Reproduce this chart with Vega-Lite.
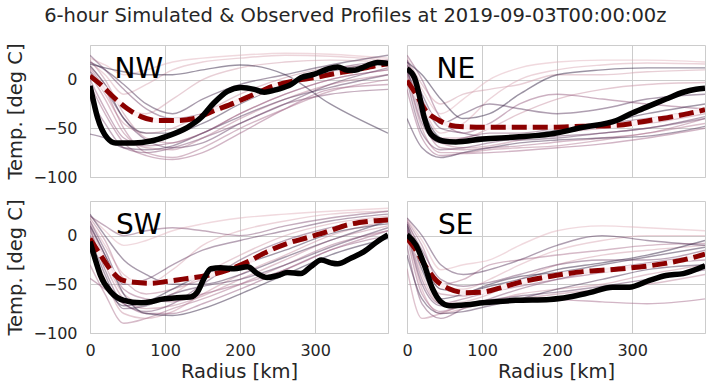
{
"$schema":"https://vega.github.io/schema/vega-lite/v6.json",
"padding":{"left":5,"top":6,"right":6,"bottom":5},
"title":{"text":"6-hour Simulated & Observed Profiles at 2019-09-03T00:00:00z","font":"DejaVu Sans","fontSize":19.5,"fontWeight":"normal","color":"#262626","anchor":"middle","frame":"bounds","offset":16},
"config":{"font":"DejaVu Sans","view":{"stroke":"#cccccc","strokeWidth":1},
"axis":{"domain":false,"ticks":false,"grid":true,"gridColor":"#cccccc","gridWidth":1,"labelFontSize":16,"labelColor":"#262626","titleFontSize":19.5,"titleFontWeight":"normal","titleColor":"#262626","labelFlush":false,"labelOverlap":false}},
"data":{"values":[
{"p":"NW","m":1,"r":0,"t":22},{"p":"NW","m":1,"r":20,"t":15},{"p":"NW","m":1,"r":45,"t":5},{"p":"NW","m":1,"r":75,"t":10},{"p":"NW","m":1,"r":110,"t":18},{"p":"NW","m":1,"r":150,"t":22},{"p":"NW","m":1,"r":200,"t":25},{"p":"NW","m":1,"r":260,"t":27},{"p":"NW","m":1,"r":320,"t":26},{"p":"NW","m":1,"r":397,"t":22},
{"p":"NW","m":2,"r":0,"t":18},{"p":"NW","m":2,"r":20,"t":5},{"p":"NW","m":2,"r":45,"t":-15},{"p":"NW","m":2,"r":75,"t":-5},{"p":"NW","m":2,"r":110,"t":10},{"p":"NW","m":2,"r":150,"t":18},{"p":"NW","m":2,"r":200,"t":22},{"p":"NW","m":2,"r":260,"t":25},{"p":"NW","m":2,"r":320,"t":24},{"p":"NW","m":2,"r":397,"t":20},
{"p":"NW","m":3,"r":0,"t":15},{"p":"NW","m":3,"r":20,"t":-5},{"p":"NW","m":3,"r":45,"t":-30},{"p":"NW","m":3,"r":75,"t":-35},{"p":"NW","m":3,"r":110,"t":-20},{"p":"NW","m":3,"r":150,"t":0},{"p":"NW","m":3,"r":200,"t":12},{"p":"NW","m":3,"r":260,"t":18},{"p":"NW","m":3,"r":320,"t":20},{"p":"NW","m":3,"r":397,"t":18},
{"p":"NW","m":4,"r":0,"t":10},{"p":"NW","m":4,"r":20,"t":-15},{"p":"NW","m":4,"r":45,"t":-45},{"p":"NW","m":4,"r":75,"t":-55},{"p":"NW","m":4,"r":110,"t":-50},{"p":"NW","m":4,"r":150,"t":-35},{"p":"NW","m":4,"r":200,"t":-15},{"p":"NW","m":4,"r":260,"t":2},{"p":"NW","m":4,"r":320,"t":12},{"p":"NW","m":4,"r":397,"t":15},
{"p":"NW","m":5,"r":0,"t":20},{"p":"NW","m":5,"r":20,"t":0},{"p":"NW","m":5,"r":45,"t":-35},{"p":"NW","m":5,"r":75,"t":-60},{"p":"NW","m":5,"r":110,"t":-65},{"p":"NW","m":5,"r":150,"t":-55},{"p":"NW","m":5,"r":200,"t":-35},{"p":"NW","m":5,"r":260,"t":-15},{"p":"NW","m":5,"r":320,"t":0},{"p":"NW","m":5,"r":397,"t":10},
{"p":"NW","m":6,"r":0,"t":5},{"p":"NW","m":6,"r":20,"t":-20},{"p":"NW","m":6,"r":45,"t":-55},{"p":"NW","m":6,"r":75,"t":-70},{"p":"NW","m":6,"r":110,"t":-72},{"p":"NW","m":6,"r":150,"t":-60},{"p":"NW","m":6,"r":200,"t":-40},{"p":"NW","m":6,"r":260,"t":-20},{"p":"NW","m":6,"r":320,"t":-5},{"p":"NW","m":6,"r":397,"t":5},
{"p":"NW","m":7,"r":0,"t":12},{"p":"NW","m":7,"r":20,"t":-10},{"p":"NW","m":7,"r":45,"t":-50},{"p":"NW","m":7,"r":75,"t":-75},{"p":"NW","m":7,"r":110,"t":-80},{"p":"NW","m":7,"r":150,"t":-70},{"p":"NW","m":7,"r":200,"t":-50},{"p":"NW","m":7,"r":260,"t":-30},{"p":"NW","m":7,"r":320,"t":-12},{"p":"NW","m":7,"r":397,"t":0},
{"p":"NW","m":8,"r":0,"t":-5},{"p":"NW","m":8,"r":20,"t":-35},{"p":"NW","m":8,"r":45,"t":-65},{"p":"NW","m":8,"r":75,"t":-78},{"p":"NW","m":8,"r":110,"t":-82},{"p":"NW","m":8,"r":150,"t":-75},{"p":"NW","m":8,"r":200,"t":-55},{"p":"NW","m":8,"r":260,"t":-30},{"p":"NW","m":8,"r":320,"t":-10},{"p":"NW","m":8,"r":397,"t":-5},
{"p":"NW","m":9,"r":0,"t":0},{"p":"NW","m":9,"r":20,"t":-30},{"p":"NW","m":9,"r":45,"t":-60},{"p":"NW","m":9,"r":75,"t":-68},{"p":"NW","m":9,"r":110,"t":-65},{"p":"NW","m":9,"r":150,"t":-55},{"p":"NW","m":9,"r":200,"t":-35},{"p":"NW","m":9,"r":260,"t":-15},{"p":"NW","m":9,"r":320,"t":0},{"p":"NW","m":9,"r":397,"t":10},
{"p":"NW","m":10,"r":0,"t":-20},{"p":"NW","m":10,"r":20,"t":-45},{"p":"NW","m":10,"r":45,"t":-70},{"p":"NW","m":10,"r":75,"t":-75},{"p":"NW","m":10,"r":110,"t":-70},{"p":"NW","m":10,"r":150,"t":-60},{"p":"NW","m":10,"r":200,"t":-45},{"p":"NW","m":10,"r":260,"t":-25},{"p":"NW","m":10,"r":320,"t":-15},{"p":"NW","m":10,"r":397,"t":-10},
{"p":"NW","m":11,"r":0,"t":25},{"p":"NW","m":11,"r":20,"t":10},{"p":"NW","m":11,"r":45,"t":-10},{"p":"NW","m":11,"r":75,"t":-30},{"p":"NW","m":11,"r":110,"t":-40},{"p":"NW","m":11,"r":150,"t":-35},{"p":"NW","m":11,"r":200,"t":-20},{"p":"NW","m":11,"r":260,"t":-5},{"p":"NW","m":11,"r":320,"t":10},{"p":"NW","m":11,"r":397,"t":20},
{"p":"NW","m":12,"r":0,"t":8},{"p":"NW","m":12,"r":20,"t":-10},{"p":"NW","m":12,"r":45,"t":-40},{"p":"NW","m":12,"r":75,"t":-62},{"p":"NW","m":12,"r":110,"t":-70},{"p":"NW","m":12,"r":150,"t":-65},{"p":"NW","m":12,"r":200,"t":-45},{"p":"NW","m":12,"r":260,"t":-25},{"p":"NW","m":12,"r":320,"t":-5},{"p":"NW","m":12,"r":397,"t":12},
{"p":"NW","m":13,"r":0,"t":-56},{"p":"NW","m":13,"r":20,"t":-60},{"p":"NW","m":13,"r":45,"t":-70},{"p":"NW","m":13,"r":75,"t":-72},{"p":"NW","m":13,"r":110,"t":-68},{"p":"NW","m":13,"r":150,"t":-55},{"p":"NW","m":13,"r":200,"t":-38},{"p":"NW","m":13,"r":260,"t":-20},{"p":"NW","m":13,"r":320,"t":-8},{"p":"NW","m":13,"r":397,"t":5},
{"p":"NW","m":14,"r":0,"t":18},{"p":"NW","m":14,"r":20,"t":10},{"p":"NW","m":14,"r":45,"t":-5},{"p":"NW","m":14,"r":75,"t":-25},{"p":"NW","m":14,"r":110,"t":-35},{"p":"NW","m":14,"r":150,"t":-20},{"p":"NW","m":14,"r":200,"t":-5},{"p":"NW","m":14,"r":260,"t":5},{"p":"NW","m":14,"r":320,"t":15},{"p":"NW","m":14,"r":397,"t":25},
{"p":"NW","m":15,"r":0,"t":14},{"p":"NW","m":15,"r":20,"t":-5},{"p":"NW","m":15,"r":45,"t":-40},{"p":"NW","m":15,"r":75,"t":-55},{"p":"NW","m":15,"r":110,"t":-55},{"p":"NW","m":15,"r":150,"t":-45},{"p":"NW","m":15,"r":200,"t":-25},{"p":"NW","m":15,"r":260,"t":-5},{"p":"NW","m":15,"r":320,"t":8},{"p":"NW","m":15,"r":397,"t":18},
{"p":"NW","m":16,"r":0,"t":16},{"p":"NW","m":16,"r":20,"t":12},{"p":"NW","m":16,"r":45,"t":8},{"p":"NW","m":16,"r":75,"t":5},{"p":"NW","m":16,"r":110,"t":5},{"p":"NW","m":16,"r":150,"t":10},{"p":"NW","m":16,"r":200,"t":15},{"p":"NW","m":16,"r":260,"t":5},{"p":"NW","m":16,"r":320,"t":-25},{"p":"NW","m":16,"r":397,"t":-55},
{"p":"NE","m":1,"r":0,"t":20},{"p":"NE","m":1,"r":20,"t":-10},{"p":"NE","m":1,"r":45,"t":-35},{"p":"NE","m":1,"r":75,"t":-20},{"p":"NE","m":1,"r":110,"t":0},{"p":"NE","m":1,"r":150,"t":12},{"p":"NE","m":1,"r":200,"t":18},{"p":"NE","m":1,"r":260,"t":20},{"p":"NE","m":1,"r":320,"t":20},{"p":"NE","m":1,"r":397,"t":18},
{"p":"NE","m":2,"r":0,"t":15},{"p":"NE","m":2,"r":20,"t":-25},{"p":"NE","m":2,"r":45,"t":-55},{"p":"NE","m":2,"r":75,"t":-45},{"p":"NE","m":2,"r":110,"t":-20},{"p":"NE","m":2,"r":150,"t":0},{"p":"NE","m":2,"r":200,"t":10},{"p":"NE","m":2,"r":260,"t":15},{"p":"NE","m":2,"r":320,"t":17},{"p":"NE","m":2,"r":397,"t":16},
{"p":"NE","m":3,"r":0,"t":22},{"p":"NE","m":3,"r":20,"t":-5},{"p":"NE","m":3,"r":45,"t":-25},{"p":"NE","m":3,"r":75,"t":-15},{"p":"NE","m":3,"r":110,"t":-10},{"p":"NE","m":3,"r":150,"t":-5},{"p":"NE","m":3,"r":200,"t":5},{"p":"NE","m":3,"r":260,"t":5},{"p":"NE","m":3,"r":320,"t":8},{"p":"NE","m":3,"r":397,"t":10},
{"p":"NE","m":4,"r":0,"t":10},{"p":"NE","m":4,"r":20,"t":-35},{"p":"NE","m":4,"r":45,"t":-60},{"p":"NE","m":4,"r":75,"t":-60},{"p":"NE","m":4,"r":110,"t":-50},{"p":"NE","m":4,"r":150,"t":-35},{"p":"NE","m":4,"r":200,"t":-20},{"p":"NE","m":4,"r":260,"t":-10},{"p":"NE","m":4,"r":320,"t":-5},{"p":"NE","m":4,"r":397,"t":-3},
{"p":"NE","m":5,"r":0,"t":18},{"p":"NE","m":5,"r":20,"t":-30},{"p":"NE","m":5,"r":45,"t":-65},{"p":"NE","m":5,"r":75,"t":-70},{"p":"NE","m":5,"r":110,"t":-68},{"p":"NE","m":5,"r":150,"t":-62},{"p":"NE","m":5,"r":200,"t":-55},{"p":"NE","m":5,"r":260,"t":-50},{"p":"NE","m":5,"r":320,"t":-45},{"p":"NE","m":5,"r":397,"t":-35},
{"p":"NE","m":6,"r":0,"t":5},{"p":"NE","m":6,"r":20,"t":-50},{"p":"NE","m":6,"r":45,"t":-75},{"p":"NE","m":6,"r":75,"t":-75},{"p":"NE","m":6,"r":110,"t":-72},{"p":"NE","m":6,"r":150,"t":-70},{"p":"NE","m":6,"r":200,"t":-68},{"p":"NE","m":6,"r":260,"t":-62},{"p":"NE","m":6,"r":320,"t":-55},{"p":"NE","m":6,"r":397,"t":-45},
{"p":"NE","m":7,"r":0,"t":12},{"p":"NE","m":7,"r":20,"t":-40},{"p":"NE","m":7,"r":45,"t":-70},{"p":"NE","m":7,"r":75,"t":-72},{"p":"NE","m":7,"r":110,"t":-70},{"p":"NE","m":7,"r":150,"t":-68},{"p":"NE","m":7,"r":200,"t":-64},{"p":"NE","m":7,"r":260,"t":-60},{"p":"NE","m":7,"r":320,"t":-55},{"p":"NE","m":7,"r":397,"t":-40},
{"p":"NE","m":8,"r":0,"t":-10},{"p":"NE","m":8,"r":20,"t":-60},{"p":"NE","m":8,"r":45,"t":-78},{"p":"NE","m":8,"r":75,"t":-76},{"p":"NE","m":8,"r":110,"t":-75},{"p":"NE","m":8,"r":150,"t":-73},{"p":"NE","m":8,"r":200,"t":-70},{"p":"NE","m":8,"r":260,"t":-66},{"p":"NE","m":8,"r":320,"t":-60},{"p":"NE","m":8,"r":397,"t":-50},
{"p":"NE","m":9,"r":0,"t":25},{"p":"NE","m":9,"r":20,"t":0},{"p":"NE","m":9,"r":45,"t":-40},{"p":"NE","m":9,"r":75,"t":-55},{"p":"NE","m":9,"r":110,"t":-45},{"p":"NE","m":9,"r":150,"t":-25},{"p":"NE","m":9,"r":200,"t":-15},{"p":"NE","m":9,"r":260,"t":-20},{"p":"NE","m":9,"r":320,"t":-25},{"p":"NE","m":9,"r":397,"t":-30},
{"p":"NE","m":10,"r":0,"t":8},{"p":"NE","m":10,"r":20,"t":-45},{"p":"NE","m":10,"r":45,"t":-65},{"p":"NE","m":10,"r":75,"t":-60},{"p":"NE","m":10,"r":110,"t":-55},{"p":"NE","m":10,"r":150,"t":-55},{"p":"NE","m":10,"r":200,"t":-50},{"p":"NE","m":10,"r":260,"t":-45},{"p":"NE","m":10,"r":320,"t":-40},{"p":"NE","m":10,"r":397,"t":-30},
{"p":"NE","m":11,"r":0,"t":0},{"p":"NE","m":11,"r":20,"t":-55},{"p":"NE","m":11,"r":45,"t":-72},{"p":"NE","m":11,"r":75,"t":-70},{"p":"NE","m":11,"r":110,"t":-65},{"p":"NE","m":11,"r":150,"t":-60},{"p":"NE","m":11,"r":200,"t":-58},{"p":"NE","m":11,"r":260,"t":-55},{"p":"NE","m":11,"r":320,"t":-50},{"p":"NE","m":11,"r":397,"t":-40},
{"p":"NE","m":12,"r":0,"t":15},{"p":"NE","m":12,"r":20,"t":-20},{"p":"NE","m":12,"r":45,"t":-50},{"p":"NE","m":12,"r":75,"t":-55},{"p":"NE","m":12,"r":110,"t":-60},{"p":"NE","m":12,"r":150,"t":-62},{"p":"NE","m":12,"r":200,"t":-60},{"p":"NE","m":12,"r":260,"t":-55},{"p":"NE","m":12,"r":320,"t":-50},{"p":"NE","m":12,"r":397,"t":-38},
{"p":"NE","m":13,"r":0,"t":20},{"p":"NE","m":13,"r":20,"t":-15},{"p":"NE","m":13,"r":45,"t":-45},{"p":"NE","m":13,"r":75,"t":-35},{"p":"NE","m":13,"r":110,"t":-25},{"p":"NE","m":13,"r":150,"t":-30},{"p":"NE","m":13,"r":200,"t":-35},{"p":"NE","m":13,"r":260,"t":-30},{"p":"NE","m":13,"r":320,"t":-20},{"p":"NE","m":13,"r":397,"t":-15},
{"p":"NE","m":14,"r":0,"t":-40},{"p":"NE","m":14,"r":20,"t":-70},{"p":"NE","m":14,"r":45,"t":-80},{"p":"NE","m":14,"r":75,"t":-75},{"p":"NE","m":14,"r":110,"t":-70},{"p":"NE","m":14,"r":150,"t":-65},{"p":"NE","m":14,"r":200,"t":-62},{"p":"NE","m":14,"r":260,"t":-60},{"p":"NE","m":14,"r":320,"t":-58},{"p":"NE","m":14,"r":397,"t":-48},
{"p":"NE","m":15,"r":0,"t":10},{"p":"NE","m":15,"r":20,"t":-30},{"p":"NE","m":15,"r":45,"t":-60},{"p":"NE","m":15,"r":75,"t":-65},{"p":"NE","m":15,"r":110,"t":-62},{"p":"NE","m":15,"r":150,"t":-58},{"p":"NE","m":15,"r":200,"t":-52},{"p":"NE","m":15,"r":260,"t":-45},{"p":"NE","m":15,"r":320,"t":-35},{"p":"NE","m":15,"r":397,"t":-25},
{"p":"NE","m":16,"r":0,"t":18},{"p":"NE","m":16,"r":20,"t":5},{"p":"NE","m":16,"r":45,"t":-20},{"p":"NE","m":16,"r":75,"t":-40},{"p":"NE","m":16,"r":110,"t":-35},{"p":"NE","m":16,"r":150,"t":-15},{"p":"NE","m":16,"r":200,"t":5},{"p":"NE","m":16,"r":260,"t":10},{"p":"NE","m":16,"r":320,"t":12},{"p":"NE","m":16,"r":397,"t":12},
{"p":"SW","m":1,"r":0,"t":20},{"p":"SW","m":1,"r":20,"t":5},{"p":"SW","m":1,"r":45,"t":-10},{"p":"SW","m":1,"r":75,"t":-5},{"p":"SW","m":1,"r":110,"t":5},{"p":"SW","m":1,"r":150,"t":12},{"p":"SW","m":1,"r":200,"t":18},{"p":"SW","m":1,"r":260,"t":22},{"p":"SW","m":1,"r":320,"t":25},{"p":"SW","m":1,"r":397,"t":28},
{"p":"SW","m":2,"r":0,"t":15},{"p":"SW","m":2,"r":20,"t":-10},{"p":"SW","m":2,"r":45,"t":-40},{"p":"SW","m":2,"r":75,"t":-50},{"p":"SW","m":2,"r":110,"t":-35},{"p":"SW","m":2,"r":150,"t":-10},{"p":"SW","m":2,"r":200,"t":5},{"p":"SW","m":2,"r":260,"t":15},{"p":"SW","m":2,"r":320,"t":22},{"p":"SW","m":2,"r":397,"t":25},
{"p":"SW","m":3,"r":0,"t":10},{"p":"SW","m":3,"r":20,"t":-25},{"p":"SW","m":3,"r":45,"t":-60},{"p":"SW","m":3,"r":75,"t":-70},{"p":"SW","m":3,"r":110,"t":-60},{"p":"SW","m":3,"r":150,"t":-40},{"p":"SW","m":3,"r":200,"t":-20},{"p":"SW","m":3,"r":260,"t":0},{"p":"SW","m":3,"r":320,"t":12},{"p":"SW","m":3,"r":397,"t":20},
{"p":"SW","m":4,"r":0,"t":-5},{"p":"SW","m":4,"r":20,"t":-45},{"p":"SW","m":4,"r":45,"t":-80},{"p":"SW","m":4,"r":75,"t":-85},{"p":"SW","m":4,"r":110,"t":-78},{"p":"SW","m":4,"r":150,"t":-60},{"p":"SW","m":4,"r":200,"t":-40},{"p":"SW","m":4,"r":260,"t":-20},{"p":"SW","m":4,"r":320,"t":0},{"p":"SW","m":4,"r":397,"t":15},
{"p":"SW","m":5,"r":0,"t":5},{"p":"SW","m":5,"r":20,"t":-30},{"p":"SW","m":5,"r":45,"t":-65},{"p":"SW","m":5,"r":75,"t":-75},{"p":"SW","m":5,"r":110,"t":-72},{"p":"SW","m":5,"r":150,"t":-62},{"p":"SW","m":5,"r":200,"t":-45},{"p":"SW","m":5,"r":260,"t":-25},{"p":"SW","m":5,"r":320,"t":-5},{"p":"SW","m":5,"r":397,"t":10},
{"p":"SW","m":6,"r":0,"t":18},{"p":"SW","m":6,"r":20,"t":-5},{"p":"SW","m":6,"r":45,"t":-45},{"p":"SW","m":6,"r":75,"t":-60},{"p":"SW","m":6,"r":110,"t":-55},{"p":"SW","m":6,"r":150,"t":-45},{"p":"SW","m":6,"r":200,"t":-30},{"p":"SW","m":6,"r":260,"t":-10},{"p":"SW","m":6,"r":320,"t":5},{"p":"SW","m":6,"r":397,"t":18},
{"p":"SW","m":7,"r":0,"t":-30},{"p":"SW","m":7,"r":20,"t":-60},{"p":"SW","m":7,"r":45,"t":-90},{"p":"SW","m":7,"r":75,"t":-85},{"p":"SW","m":7,"r":110,"t":-75},{"p":"SW","m":7,"r":150,"t":-65},{"p":"SW","m":7,"r":200,"t":-50},{"p":"SW","m":7,"r":260,"t":-30},{"p":"SW","m":7,"r":320,"t":-10},{"p":"SW","m":7,"r":397,"t":5},
{"p":"SW","m":8,"r":0,"t":12},{"p":"SW","m":8,"r":20,"t":-20},{"p":"SW","m":8,"r":45,"t":-55},{"p":"SW","m":8,"r":75,"t":-65},{"p":"SW","m":8,"r":110,"t":-68},{"p":"SW","m":8,"r":150,"t":-60},{"p":"SW","m":8,"r":200,"t":-50},{"p":"SW","m":8,"r":260,"t":-35},{"p":"SW","m":8,"r":320,"t":-15},{"p":"SW","m":8,"r":397,"t":5},
{"p":"SW","m":9,"r":0,"t":-44},{"p":"SW","m":9,"r":20,"t":-55},{"p":"SW","m":9,"r":45,"t":-70},{"p":"SW","m":9,"r":75,"t":-80},{"p":"SW","m":9,"r":110,"t":-80},{"p":"SW","m":9,"r":150,"t":-70},{"p":"SW","m":9,"r":200,"t":-55},{"p":"SW","m":9,"r":260,"t":-35},{"p":"SW","m":9,"r":320,"t":-15},{"p":"SW","m":9,"r":397,"t":0},
{"p":"SW","m":10,"r":0,"t":20},{"p":"SW","m":10,"r":20,"t":10},{"p":"SW","m":10,"r":45,"t":0},{"p":"SW","m":10,"r":75,"t":5},{"p":"SW","m":10,"r":110,"t":8},{"p":"SW","m":10,"r":150,"t":5},{"p":"SW","m":10,"r":200,"t":0},{"p":"SW","m":10,"r":260,"t":10},{"p":"SW","m":10,"r":320,"t":18},{"p":"SW","m":10,"r":397,"t":25},
{"p":"SW","m":11,"r":0,"t":8},{"p":"SW","m":11,"r":20,"t":-35},{"p":"SW","m":11,"r":45,"t":-70},{"p":"SW","m":11,"r":75,"t":-78},{"p":"SW","m":11,"r":110,"t":-70},{"p":"SW","m":11,"r":150,"t":-50},{"p":"SW","m":11,"r":200,"t":-25},{"p":"SW","m":11,"r":260,"t":-5},{"p":"SW","m":11,"r":320,"t":8},{"p":"SW","m":11,"r":397,"t":18},
{"p":"SW","m":12,"r":0,"t":15},{"p":"SW","m":12,"r":20,"t":-15},{"p":"SW","m":12,"r":45,"t":-50},{"p":"SW","m":12,"r":75,"t":-45},{"p":"SW","m":12,"r":110,"t":-30},{"p":"SW","m":12,"r":150,"t":-15},{"p":"SW","m":12,"r":200,"t":-5},{"p":"SW","m":12,"r":260,"t":5},{"p":"SW","m":12,"r":320,"t":15},{"p":"SW","m":12,"r":397,"t":22},
{"p":"SW","m":13,"r":0,"t":0},{"p":"SW","m":13,"r":20,"t":-40},{"p":"SW","m":13,"r":45,"t":-75},{"p":"SW","m":13,"r":75,"t":-72},{"p":"SW","m":13,"r":110,"t":-60},{"p":"SW","m":13,"r":150,"t":-52},{"p":"SW","m":13,"r":200,"t":-45},{"p":"SW","m":13,"r":260,"t":-30},{"p":"SW","m":13,"r":320,"t":-12},{"p":"SW","m":13,"r":397,"t":8},
{"p":"SW","m":14,"r":0,"t":22},{"p":"SW","m":14,"r":20,"t":0},{"p":"SW","m":14,"r":45,"t":-25},{"p":"SW","m":14,"r":75,"t":-40},{"p":"SW","m":14,"r":110,"t":-50},{"p":"SW","m":14,"r":150,"t":-50},{"p":"SW","m":14,"r":200,"t":-40},{"p":"SW","m":14,"r":260,"t":-22},{"p":"SW","m":14,"r":320,"t":-5},{"p":"SW","m":14,"r":397,"t":15},
{"p":"SW","m":15,"r":0,"t":-15},{"p":"SW","m":15,"r":20,"t":-50},{"p":"SW","m":15,"r":45,"t":-72},{"p":"SW","m":15,"r":75,"t":-68},{"p":"SW","m":15,"r":110,"t":-55},{"p":"SW","m":15,"r":150,"t":-40},{"p":"SW","m":15,"r":200,"t":-30},{"p":"SW","m":15,"r":260,"t":-15},{"p":"SW","m":15,"r":320,"t":2},{"p":"SW","m":15,"r":397,"t":12},
{"p":"SW","m":16,"r":0,"t":10},{"p":"SW","m":16,"r":20,"t":-20},{"p":"SW","m":16,"r":45,"t":-60},{"p":"SW","m":16,"r":75,"t":-80},{"p":"SW","m":16,"r":110,"t":-82},{"p":"SW","m":16,"r":150,"t":-75},{"p":"SW","m":16,"r":200,"t":-60},{"p":"SW","m":16,"r":260,"t":-40},{"p":"SW","m":16,"r":320,"t":-20},{"p":"SW","m":16,"r":397,"t":-3},
{"p":"SE","m":1,"r":0,"t":18},{"p":"SE","m":1,"r":20,"t":-5},{"p":"SE","m":1,"r":45,"t":-35},{"p":"SE","m":1,"r":75,"t":-30},{"p":"SE","m":1,"r":110,"t":-25},{"p":"SE","m":1,"r":150,"t":-10},{"p":"SE","m":1,"r":200,"t":5},{"p":"SE","m":1,"r":260,"t":10},{"p":"SE","m":1,"r":320,"t":8},{"p":"SE","m":1,"r":397,"t":5},
{"p":"SE","m":2,"r":0,"t":15},{"p":"SE","m":2,"r":20,"t":-20},{"p":"SE","m":2,"r":45,"t":-55},{"p":"SE","m":2,"r":75,"t":-55},{"p":"SE","m":2,"r":110,"t":-45},{"p":"SE","m":2,"r":150,"t":-30},{"p":"SE","m":2,"r":200,"t":-15},{"p":"SE","m":2,"r":260,"t":-5},{"p":"SE","m":2,"r":320,"t":0},{"p":"SE","m":2,"r":397,"t":0},
{"p":"SE","m":3,"r":0,"t":10},{"p":"SE","m":3,"r":20,"t":-40},{"p":"SE","m":3,"r":45,"t":-70},{"p":"SE","m":3,"r":75,"t":-68},{"p":"SE","m":3,"r":110,"t":-60},{"p":"SE","m":3,"r":150,"t":-45},{"p":"SE","m":3,"r":200,"t":-30},{"p":"SE","m":3,"r":260,"t":-20},{"p":"SE","m":3,"r":320,"t":-15},{"p":"SE","m":3,"r":397,"t":-10},
{"p":"SE","m":4,"r":0,"t":5},{"p":"SE","m":4,"r":20,"t":-55},{"p":"SE","m":4,"r":45,"t":-80},{"p":"SE","m":4,"r":75,"t":-75},{"p":"SE","m":4,"r":110,"t":-68},{"p":"SE","m":4,"r":150,"t":-60},{"p":"SE","m":4,"r":200,"t":-55},{"p":"SE","m":4,"r":260,"t":-50},{"p":"SE","m":4,"r":320,"t":-40},{"p":"SE","m":4,"r":397,"t":-30},
{"p":"SE","m":5,"r":0,"t":-34},{"p":"SE","m":5,"r":20,"t":-85},{"p":"SE","m":5,"r":45,"t":-80},{"p":"SE","m":5,"r":75,"t":-72},{"p":"SE","m":5,"r":110,"t":-70},{"p":"SE","m":5,"r":150,"t":-65},{"p":"SE","m":5,"r":200,"t":-60},{"p":"SE","m":5,"r":260,"t":-55},{"p":"SE","m":5,"r":320,"t":-50},{"p":"SE","m":5,"r":397,"t":-40},
{"p":"SE","m":6,"r":0,"t":12},{"p":"SE","m":6,"r":20,"t":-30},{"p":"SE","m":6,"r":45,"t":-60},{"p":"SE","m":6,"r":75,"t":-62},{"p":"SE","m":6,"r":110,"t":-55},{"p":"SE","m":6,"r":150,"t":-50},{"p":"SE","m":6,"r":200,"t":-40},{"p":"SE","m":6,"r":260,"t":-35},{"p":"SE","m":6,"r":320,"t":-30},{"p":"SE","m":6,"r":397,"t":-20},
{"p":"SE","m":7,"r":0,"t":16},{"p":"SE","m":7,"r":20,"t":-10},{"p":"SE","m":7,"r":45,"t":-50},{"p":"SE","m":7,"r":75,"t":-45},{"p":"SE","m":7,"r":110,"t":-30},{"p":"SE","m":7,"r":150,"t":-25},{"p":"SE","m":7,"r":200,"t":-20},{"p":"SE","m":7,"r":260,"t":-15},{"p":"SE","m":7,"r":320,"t":-10},{"p":"SE","m":7,"r":397,"t":-8},
{"p":"SE","m":8,"r":0,"t":0},{"p":"SE","m":8,"r":20,"t":-60},{"p":"SE","m":8,"r":45,"t":-78},{"p":"SE","m":8,"r":75,"t":-72},{"p":"SE","m":8,"r":110,"t":-70},{"p":"SE","m":8,"r":150,"t":-68},{"p":"SE","m":8,"r":200,"t":-66},{"p":"SE","m":8,"r":260,"t":-68},{"p":"SE","m":8,"r":320,"t":-70},{"p":"SE","m":8,"r":397,"t":-65},
{"p":"SE","m":9,"r":0,"t":8},{"p":"SE","m":9,"r":20,"t":-45},{"p":"SE","m":9,"r":45,"t":-70},{"p":"SE","m":9,"r":75,"t":-65},{"p":"SE","m":9,"r":110,"t":-58},{"p":"SE","m":9,"r":150,"t":-52},{"p":"SE","m":9,"r":200,"t":-45},{"p":"SE","m":9,"r":260,"t":-38},{"p":"SE","m":9,"r":320,"t":-30},{"p":"SE","m":9,"r":397,"t":-25},
{"p":"SE","m":10,"r":0,"t":-10},{"p":"SE","m":10,"r":20,"t":-70},{"p":"SE","m":10,"r":45,"t":-85},{"p":"SE","m":10,"r":75,"t":-75},{"p":"SE","m":10,"r":110,"t":-65},{"p":"SE","m":10,"r":150,"t":-55},{"p":"SE","m":10,"r":200,"t":-45},{"p":"SE","m":10,"r":260,"t":-35},{"p":"SE","m":10,"r":320,"t":-28},{"p":"SE","m":10,"r":397,"t":-20},
{"p":"SE","m":11,"r":0,"t":14},{"p":"SE","m":11,"r":20,"t":-15},{"p":"SE","m":11,"r":45,"t":-45},{"p":"SE","m":11,"r":75,"t":-52},{"p":"SE","m":11,"r":110,"t":-48},{"p":"SE","m":11,"r":150,"t":-40},{"p":"SE","m":11,"r":200,"t":-30},{"p":"SE","m":11,"r":260,"t":-25},{"p":"SE","m":11,"r":320,"t":-25},{"p":"SE","m":11,"r":397,"t":-15},
{"p":"SE","m":12,"r":0,"t":6},{"p":"SE","m":12,"r":20,"t":-50},{"p":"SE","m":12,"r":45,"t":-72},{"p":"SE","m":12,"r":75,"t":-70},{"p":"SE","m":12,"r":110,"t":-66},{"p":"SE","m":12,"r":150,"t":-62},{"p":"SE","m":12,"r":200,"t":-58},{"p":"SE","m":12,"r":260,"t":-52},{"p":"SE","m":12,"r":320,"t":-45},{"p":"SE","m":12,"r":397,"t":-35},
{"p":"SE","m":13,"r":0,"t":18},{"p":"SE","m":13,"r":20,"t":0},{"p":"SE","m":13,"r":45,"t":-30},{"p":"SE","m":13,"r":75,"t":-40},{"p":"SE","m":13,"r":110,"t":-35},{"p":"SE","m":13,"r":150,"t":-25},{"p":"SE","m":13,"r":200,"t":-10},{"p":"SE","m":13,"r":260,"t":0},{"p":"SE","m":13,"r":320,"t":-5},{"p":"SE","m":13,"r":397,"t":-10},
{"p":"SE","m":14,"r":0,"t":-20},{"p":"SE","m":14,"r":20,"t":-65},{"p":"SE","m":14,"r":45,"t":-80},{"p":"SE","m":14,"r":75,"t":-78},{"p":"SE","m":14,"r":110,"t":-72},{"p":"SE","m":14,"r":150,"t":-65},{"p":"SE","m":14,"r":200,"t":-55},{"p":"SE","m":14,"r":260,"t":-45},{"p":"SE","m":14,"r":320,"t":-35},{"p":"SE","m":14,"r":397,"t":-30},
{"p":"SE","m":15,"r":0,"t":10},{"p":"SE","m":15,"r":20,"t":-35},{"p":"SE","m":15,"r":45,"t":-65},{"p":"SE","m":15,"r":75,"t":-60},{"p":"SE","m":15,"r":110,"t":-50},{"p":"SE","m":15,"r":150,"t":-42},{"p":"SE","m":15,"r":200,"t":-38},{"p":"SE","m":15,"r":260,"t":-30},{"p":"SE","m":15,"r":320,"t":-22},{"p":"SE","m":15,"r":397,"t":-12},
{"p":"SE","m":16,"r":0,"t":12},{"p":"SE","m":16,"r":20,"t":-25},{"p":"SE","m":16,"r":45,"t":-55},{"p":"SE","m":16,"r":75,"t":-58},{"p":"SE","m":16,"r":110,"t":-52},{"p":"SE","m":16,"r":150,"t":-45},{"p":"SE","m":16,"r":200,"t":-35},{"p":"SE","m":16,"r":260,"t":-28},{"p":"SE","m":16,"r":320,"t":-20},{"p":"SE","m":16,"r":397,"t":-5},
{"p":"NW","k":"m","r":0,"t":3.8},{"p":"NW","k":"m","r":14,"t":-5},{"p":"NW","k":"m","r":32,"t":-18.5},{"p":"NW","k":"m","r":50,"t":-30},{"p":"NW","k":"m","r":68,"t":-38},{"p":"NW","k":"m","r":90,"t":-42},{"p":"NW","k":"m","r":116,"t":-42},{"p":"NW","k":"m","r":139,"t":-40},{"p":"NW","k":"m","r":165,"t":-32},{"p":"NW","k":"m","r":192,"t":-24},{"p":"NW","k":"m","r":219,"t":-15},{"p":"NW","k":"m","r":245,"t":-6.5},{"p":"NW","k":"m","r":272,"t":-1.4},{"p":"NW","k":"m","r":299,"t":2},{"p":"NW","k":"m","r":325,"t":6},{"p":"NW","k":"m","r":352,"t":9.6},{"p":"NW","k":"m","r":379,"t":14},{"p":"NW","k":"m","r":397,"t":16.4},
{"p":"NE","k":"m","r":0,"t":-1},{"p":"NE","k":"m","r":12,"t":-15},{"p":"NE","k":"m","r":25,"t":-32},{"p":"NE","k":"m","r":43,"t":-42},{"p":"NE","k":"m","r":65,"t":-48},{"p":"NE","k":"m","r":101,"t":-49},{"p":"NE","k":"m","r":145,"t":-49},{"p":"NE","k":"m","r":190,"t":-49},{"p":"NE","k":"m","r":234,"t":-48},{"p":"NE","k":"m","r":279,"t":-47},{"p":"NE","k":"m","r":323,"t":-42},{"p":"NE","k":"m","r":368,"t":-36},{"p":"NE","k":"m","r":397,"t":-31},
{"p":"SW","k":"m","r":0,"t":-3},{"p":"SW","k":"m","r":14,"t":-20},{"p":"SW","k":"m","r":28,"t":-35.5},{"p":"SW","k":"m","r":41,"t":-45},{"p":"SW","k":"m","r":59,"t":-48},{"p":"SW","k":"m","r":81,"t":-49},{"p":"SW","k":"m","r":103,"t":-47},{"p":"SW","k":"m","r":130,"t":-44},{"p":"SW","k":"m","r":156,"t":-41},{"p":"SW","k":"m","r":183,"t":-35.5},{"p":"SW","k":"m","r":210,"t":-27},{"p":"SW","k":"m","r":236,"t":-16.5},{"p":"SW","k":"m","r":263,"t":-8},{"p":"SW","k":"m","r":290,"t":-2},{"p":"SW","k":"m","r":316,"t":4},{"p":"SW","k":"m","r":343,"t":11},{"p":"SW","k":"m","r":370,"t":14.5},{"p":"SW","k":"m","r":397,"t":16},
{"p":"SE","k":"m","r":0,"t":-2.8},{"p":"SE","k":"m","r":12,"t":-15},{"p":"SE","k":"m","r":25,"t":-32},{"p":"SE","k":"m","r":39,"t":-46},{"p":"SE","k":"m","r":56,"t":-54.5},{"p":"SE","k":"m","r":79,"t":-58.6},{"p":"SE","k":"m","r":101,"t":-58},{"p":"SE","k":"m","r":123,"t":-54},{"p":"SE","k":"m","r":145,"t":-49},{"p":"SE","k":"m","r":190,"t":-42},{"p":"SE","k":"m","r":234,"t":-37},{"p":"SE","k":"m","r":279,"t":-34.5},{"p":"SE","k":"m","r":323,"t":-31},{"p":"SE","k":"m","r":368,"t":-25},{"p":"SE","k":"m","r":397,"t":-19},
{"p":"NW","k":"o","r":0,"t":-6.5},{"p":"NW","k":"o","r":4,"t":-20},{"p":"NW","k":"o","r":10,"t":-39},{"p":"NW","k":"o","r":23,"t":-60},{"p":"NW","k":"o","r":34,"t":-65},{"p":"NW","k":"o","r":59,"t":-65},{"p":"NW","k":"o","r":81,"t":-63},{"p":"NW","k":"o","r":103,"t":-58},{"p":"NW","k":"o","r":130,"t":-49},{"p":"NW","k":"o","r":148,"t":-39},{"p":"NW","k":"o","r":165,"t":-24},{"p":"NW","k":"o","r":183,"t":-12},{"p":"NW","k":"o","r":201,"t":-8},{"p":"NW","k":"o","r":219,"t":-10},{"p":"NW","k":"o","r":232,"t":-13},{"p":"NW","k":"o","r":250,"t":-10},{"p":"NW","k":"o","r":268,"t":-5},{"p":"NW","k":"o","r":281,"t":2},{"p":"NW","k":"o","r":299,"t":5.5},{"p":"NW","k":"o","r":316,"t":10.6},{"p":"NW","k":"o","r":330,"t":13},{"p":"NW","k":"o","r":343,"t":9.6},{"p":"NW","k":"o","r":352,"t":9.6},{"p":"NW","k":"o","r":370,"t":14.7},{"p":"NW","k":"o","r":383,"t":17.5},{"p":"NW","k":"o","r":397,"t":16.4},
{"p":"NE","k":"o","r":0,"t":11},{"p":"NE","k":"o","r":10,"t":2},{"p":"NE","k":"o","r":16,"t":-15},{"p":"NE","k":"o","r":23,"t":-39},{"p":"NE","k":"o","r":32,"t":-56},{"p":"NE","k":"o","r":48,"t":-63},{"p":"NE","k":"o","r":65,"t":-64},{"p":"NE","k":"o","r":101,"t":-61},{"p":"NE","k":"o","r":145,"t":-59},{"p":"NE","k":"o","r":190,"t":-56},{"p":"NE","k":"o","r":234,"t":-49},{"p":"NE","k":"o","r":279,"t":-42},{"p":"NE","k":"o","r":301,"t":-34},{"p":"NE","k":"o","r":323,"t":-27},{"p":"NE","k":"o","r":345,"t":-20},{"p":"NE","k":"o","r":368,"t":-13},{"p":"NE","k":"o","r":385,"t":-10},{"p":"NE","k":"o","r":397,"t":-9},
{"p":"SW","k":"o","r":0,"t":-6},{"p":"SW","k":"o","r":8,"t":-27},{"p":"SW","k":"o","r":14,"t":-41},{"p":"SW","k":"o","r":28,"t":-58},{"p":"SW","k":"o","r":45,"t":-66.5},{"p":"SW","k":"o","r":68,"t":-69},{"p":"SW","k":"o","r":81,"t":-68},{"p":"SW","k":"o","r":94,"t":-65.5},{"p":"SW","k":"o","r":112,"t":-64},{"p":"SW","k":"o","r":134,"t":-63},{"p":"SW","k":"o","r":143,"t":-58},{"p":"SW","k":"o","r":152,"t":-44},{"p":"SW","k":"o","r":161,"t":-34},{"p":"SW","k":"o","r":174,"t":-33},{"p":"SW","k":"o","r":192,"t":-34},{"p":"SW","k":"o","r":210,"t":-32},{"p":"SW","k":"o","r":223,"t":-39},{"p":"SW","k":"o","r":236,"t":-43},{"p":"SW","k":"o","r":250,"t":-41},{"p":"SW","k":"o","r":263,"t":-38},{"p":"SW","k":"o","r":281,"t":-39},{"p":"SW","k":"o","r":294,"t":-32},{"p":"SW","k":"o","r":308,"t":-25},{"p":"SW","k":"o","r":321,"t":-28},{"p":"SW","k":"o","r":330,"t":-29},{"p":"SW","k":"o","r":348,"t":-23},{"p":"SW","k":"o","r":365,"t":-16.5},{"p":"SW","k":"o","r":383,"t":-6},{"p":"SW","k":"o","r":397,"t":0.7},
{"p":"SE","k":"o","r":0,"t":0.7},{"p":"SE","k":"o","r":12,"t":-9.7},{"p":"SE","k":"o","r":23,"t":-30},{"p":"SE","k":"o","r":34,"t":-54.5},{"p":"SE","k":"o","r":45,"t":-68},{"p":"SE","k":"o","r":56,"t":-72},{"p":"SE","k":"o","r":79,"t":-71},{"p":"SE","k":"o","r":101,"t":-69},{"p":"SE","k":"o","r":145,"t":-66.5},{"p":"SE","k":"o","r":190,"t":-65.5},{"p":"SE","k":"o","r":216,"t":-63},{"p":"SE","k":"o","r":243,"t":-58.6},{"p":"SE","k":"o","r":274,"t":-53},{"p":"SE","k":"o","r":296,"t":-53},{"p":"SE","k":"o","r":323,"t":-46},{"p":"SE","k":"o","r":345,"t":-41},{"p":"SE","k":"o","r":368,"t":-39},{"p":"SE","k":"o","r":397,"t":-31}
]},
"facet":{"field":"p","type":"nominal","sort":["NW","NE","SW","SE"],"title":null,"header":{"labelExpr":"''","labelFontSize":0,"labelPadding":0,"title":null,"titlePadding":0}},
"columns":2,
"spacing":{"row":22,"column":17},
"spec":{
"width":298,"height":132,
"layer":[
{"transform":[{"filter":"isValid(datum.m)"}],"mark":{"type":"line","interpolate":"monotone","strokeWidth":1.4,"opacity":0.48,"clip":true},
"encoding":{"x":{"field":"r","type":"quantitative"},"y":{"field":"t","type":"quantitative"},"detail":{"field":"m"},"color":{"field":"m","type":"quantitative","scale":{"range":["#e0b0ba","#9c5f82","#2d1e3e"]},"legend":null}}},
{"transform":[{"filter":"datum.k=='m'"}],"mark":{"type":"line","interpolate":"monotone","strokeWidth":5,"color":"#fdf0f2","opacity":0.9,"clip":true},
"encoding":{"x":{"field":"r","type":"quantitative"},"y":{"field":"t","type":"quantitative"}}},
{"transform":[{"filter":"datum.k=='m'"}],"mark":{"type":"line","interpolate":"monotone","strokeWidth":5,"color":"#8b0000","strokeDash":[15,6],"clip":true},
"encoding":{"x":{"field":"r","type":"quantitative"},"y":{"field":"t","type":"quantitative"}}},
{"transform":[{"filter":"datum.k=='o'"}],"mark":{"type":"line","interpolate":"monotone","strokeWidth":5.5,"color":"#000000","clip":true},
"encoding":{"x":{"field":"r","type":"quantitative","scale":{"domain":[0,397],"nice":false,"zero":false},"axis":{"values":[0,100,200,300],"title":"Radius [km]","labelPadding":8,"titlePadding":4}},
"y":{"field":"t","type":"quantitative","scale":{"domain":[-100,35.5],"nice":false,"zero":false},"axis":{"values":[-100,-50,0],"title":"Temp. [deg C]","labelPadding":12,"titlePadding":8}}}},
{"transform":[{"aggregate":[{"op":"count","as":"n"}],"groupby":["p"]}],
"mark":{"type":"text","fontSize":28,"color":"#000000","align":"center","baseline":"alphabetic","font":"DejaVu Sans"},
"encoding":{"x":{"datum":65},"y":{"datum":2},"text":{"field":"p"}}}
]}
}
